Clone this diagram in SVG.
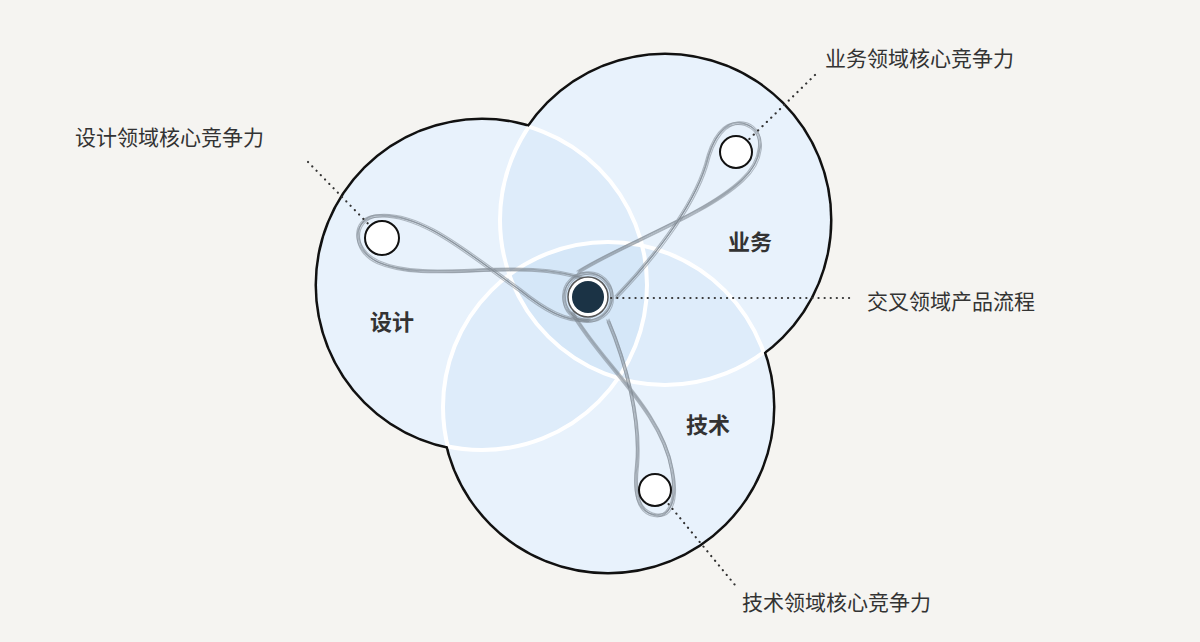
<svg xmlns="http://www.w3.org/2000/svg" width="1200" height="642" viewBox="0 0 1200 642">
<style>
.lbl{font-family:"Noto Sans CJK SC","Noto Sans",sans-serif;font-size:21px;fill:#333}
.big{font-family:"Noto Sans CJK SC","Noto Sans",sans-serif;font-size:22px;font-weight:bold;fill:#333}
.dot{stroke:#333;stroke-width:2.2;stroke-dasharray:0.1 6;stroke-linecap:round;fill:none}
.strand{fill:none;stroke:#7d8790;stroke-width:1.1;stroke-opacity:0.55}
.tint{fill:#9ccbef;fill-opacity:0.13}
</style>
<defs>
<clipPath id="notA"><circle cx="665" cy="220" r="165"/><circle cx="608" cy="407" r="165"/></clipPath>
<clipPath id="notB"><circle cx="482" cy="285" r="165"/><circle cx="608" cy="407" r="165"/></clipPath>
<clipPath id="notC"><circle cx="482" cy="285" r="165"/><circle cx="665" cy="220" r="165"/></clipPath>
<g id="loops">
<path d="M588,280 C520,255 430,285 378,262 C352,250 352,220 375,216 C420,210 470,255 520,290 C545,310 565,322 590,320"/>
<path d="M578,272 C620,245 705,215 742,180 C762,162 768,132 746,124 C724,118 712,140 706,165 C692,210 650,262 616,297"/>
<path d="M572,312 C600,362 662,410 672,470 C678,500 670,518 655,515 C637,512 634,490 637,465 C641,420 626,362 608,320"/>
<circle cx="588" cy="297" r="24"/>
</g>
</defs>
<rect width="1200" height="642" fill="#f5f4f1"/>
<g id="circles">
<g stroke="#111" stroke-width="5" fill="#f4f9fe">
<circle cx="482" cy="285" r="165"/><circle cx="665" cy="220" r="165"/><circle cx="608" cy="407" r="165"/>
</g>
<g fill="#f4f9fe">
<circle cx="482" cy="285" r="165"/><circle cx="665" cy="220" r="165"/><circle cx="608" cy="407" r="165"/>
</g>
<circle class="tint" cx="482" cy="285" r="165"/><circle class="tint" cx="665" cy="220" r="165"/><circle class="tint" cx="608" cy="407" r="165"/>
<g fill="none" stroke="#fff" stroke-width="4">
<circle cx="482" cy="285" r="165" clip-path="url(#notA)"/>
<circle cx="665" cy="220" r="165" clip-path="url(#notB)"/>
<circle cx="608" cy="407" r="165" clip-path="url(#notC)"/>
</g>
</g>
<g id="connectors">
<use href="#loops" class="strand"/>
<use href="#loops" class="strand" transform="translate(1.5,1)"/>
<use href="#loops" class="strand" transform="translate(-1,1.5)"/>
<use href="#loops" class="strand" transform="translate(0.8,-1.3)"/>
<use href="#loops" class="strand" transform="translate(-1.4,-0.6)"/>
<line class="dot" x1="308" y1="162" x2="382" y2="238"/>
<line class="dot" x1="815" y1="75" x2="738" y2="150"/>
<line class="dot" x1="605" y1="298" x2="855" y2="298"/>
<line class="dot" x1="657" y1="490" x2="735" y2="585"/>
</g>
<g id="node-design-core"><circle cx="382" cy="238" r="17" fill="#fff" stroke="#111" stroke-width="2"/></g>
<g id="node-biz-core"><circle cx="736" cy="152" r="16" fill="#fff" stroke="#111" stroke-width="2"/></g>
<g id="node-tech-core"><circle cx="655" cy="490" r="16" fill="#fff" stroke="#111" stroke-width="2"/></g>
<g id="node-center"><circle cx="588" cy="297" r="20" fill="#fff" stroke="#555" stroke-width="1.5"/><circle cx="588" cy="297" r="16" fill="#1b3345"/></g>
<g id="labels">
<text class="big" x="370" y="330">设计</text>
<text class="big" x="728" y="250">业务</text>
<text class="big" x="686" y="433">技术</text>
<text class="lbl" x="75" y="145">设计领域核心竞争力</text>
<text class="lbl" x="825" y="66">业务领域核心竞争力</text>
<text class="lbl" x="867" y="309">交叉领域产品流程</text>
<text class="lbl" x="742" y="610">技术领域核心竞争力</text>
</g>
</svg>
